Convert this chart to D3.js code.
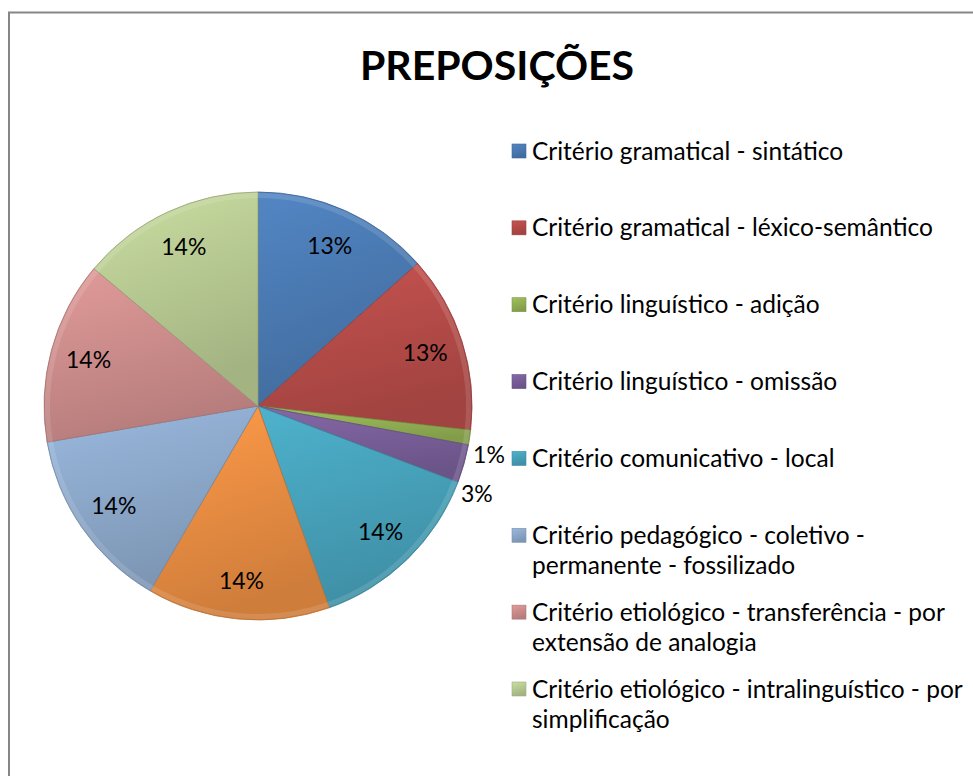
<!DOCTYPE html>
<html>
<head>
<meta charset="utf-8">
<script src="https://cdn.jsdelivr.net/npm/d3@7"></script>
<style>
  body { margin: 0; background: #fff; }
  text { font-family: Lato, "Open Sans", sans-serif; }
</style>
</head>
<body>
<script>
// valores (percentagens aproximadas)
const categorias = [
  "Critério gramatical - sintático",
  "Critério gramatical - léxico-semântico",
  "Critério linguístico - adição",
  "Critério linguístico - omissão",
  "Critério comunicativo - local",
  "Critério funcional",
  "Critério pedagógico - coletivo - permanente - fossilizado",
  "Critério etiológico - transferência - por extensão de analogia",
  "Critério etiológico - intralinguístico - por simplificação"
];
const valores = [13.4, 13.4, 1.1, 2.9, 13.8, 13.8, 13.9, 13.8, 13.9];
// linhas da legenda como aparecem (a entrada laranja não cabe na legenda)
const legendaLinhas = [
  ["Critério gramatical - sintático"],
  ["Critério gramatical - léxico-semântico"],
  ["Critério linguístico - adição"],
  ["Critério linguístico - omissão"],
  ["Critério comunicativo - local"],
  ["Critério pedagógico - coletivo -", "permanente - fossilizado"],
  ["Critério etiológico - transferência - por", "extensão de analogia"],
  ["Critério etiológico - intralinguístico - por", "simplificação"]
];
const legendaIndices = [0, 1, 2, 3, 4, 6, 7, 8];
const cores = ["#4F81BD", "#C0504D", "#9BBB59", "#8064A2", "#4BACC6", "#F79646", "#95B3D7", "#D99694", "#C3D69B"];

const width = 973, height = 776;
const svg = d3.select("body").append("svg")
  .attr("width", width)
  .attr("height", height);

// moldura
svg.append("rect")
  .attr("x", 9).attr("y", 12.5)
  .attr("width", width + 20).attr("height", height + 20)
  .attr("fill", "#fff")
  .attr("stroke", "#868686")
  .attr("stroke-width", 2);

svg.append("text")
  .attr("x", 497).attr("y", 80)
  .attr("text-anchor", "middle")
  .style("font-size", "41px")
  .style("font-weight", "bold")
  .text("PREPOSIÇÕES");

const cx = 258, cy = 406, r = 214;
const total = d3.sum(valores);
const fmt = d3.format(".0%");

const defs = svg.append("defs");
cores.forEach((c, i) => {
  const g = defs.append("linearGradient")
    .attr("id", "grad" + i)
    .attr("x1", 0).attr("y1", 0).attr("x2", 0.3).attr("y2", 1);
  g.append("stop").attr("offset", "0%").attr("stop-color", d3.color(c).brighter(0.1));
  g.append("stop").attr("offset", "100%").attr("stop-color", d3.color(c).darker(0.5));
});

const pie = d3.pie().sort(null).value(d => d)(valores);
const arc = d3.arc().innerRadius(0).outerRadius(r);
const labelArc = d3.arc().innerRadius(r * 0.82).outerRadius(r * 0.82);

const g = svg.append("g").attr("transform", `translate(${cx},${cy})`);

g.selectAll("path.slice")
  .data(pie)
  .enter().append("path")
  .attr("class", "slice")
  .attr("d", arc)
  .attr("fill", (d, i) => `url(#grad${i})`)
  .attr("stroke", (d, i) => d3.color(cores[i]).darker(0.8))
  .attr("stroke-width", 0.8);

// brilho de borda (bisel)
g.selectAll("path.bevel")
  .data(pie)
  .enter().append("path")
  .attr("class", "bevel")
  .attr("d", d3.arc().innerRadius(r - 6).outerRadius(r - 1))
  .attr("fill", "#fff")
  .attr("opacity", 0.12);

// fatias pequenas: rótulo por fora, afastando um do outro
const outerArc = d3.arc().innerRadius(r + 22).outerRadius(r + 22);
let pequenas = 0;
g.selectAll("text.lbl")
  .data(pie)
  .enter().append("text")
  .attr("class", "lbl")
  .attr("transform", d => {
    let p;
    if (d.value / total < 0.05) {
      const off = 0.06 + 0.05 * pequenas++;
      p = outerArc.centroid({ startAngle: d.startAngle + off, endAngle: d.endAngle + off });
    } else {
      p = labelArc.centroid(d);
    }
    return `translate(${p})`;
  })
  .attr("text-anchor", "middle")
  .attr("dy", "0.35em")
  .style("font-size", "23px")
  .text(d => fmt(d.value / total));

// legenda
const leg = svg.append("g");
const rowY = d3.scaleLinear().domain([0, legendaLinhas.length - 1]).range([151, 689]);
legendaLinhas.forEach((linhas, k) => {
  const y = rowY(k);
  const i = legendaIndices[k];
  leg.append("rect")
    .attr("x", 512).attr("y", y - 7)
    .attr("width", 14).attr("height", 14)
    .attr("fill", `url(#grad${i})`)
    .attr("stroke", d3.color(cores[i]).darker(0.6))
    .attr("stroke-width", 0.6);
  const t = leg.append("text")
    .attr("x", 532).attr("y", y)
    .style("font-size", "24.5px");
  linhas.forEach((l, j) => {
    t.append("tspan").attr("x", 532).attr("dy", j === 0 ? "0.35em" : 30).text(l);
  });
});
</script>
</body>
</html>
